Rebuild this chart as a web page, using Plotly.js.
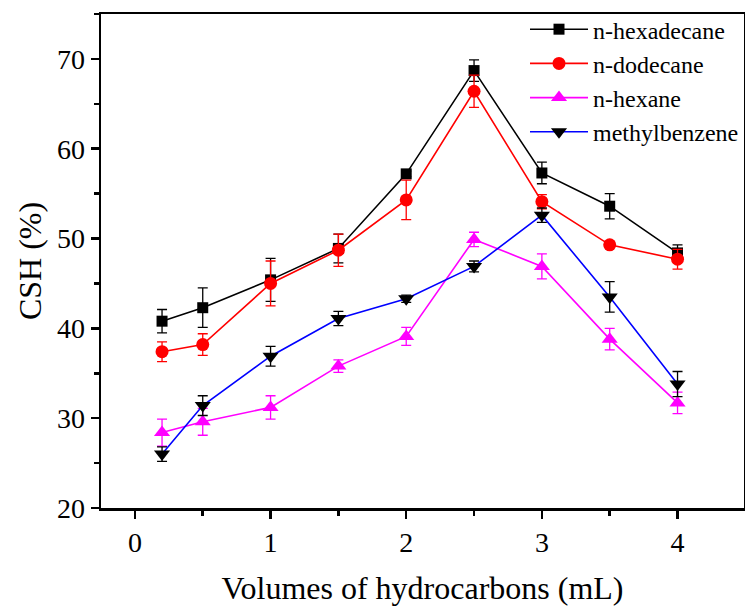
<!DOCTYPE html>
<html>
<head>
<meta charset="utf-8">
<script src="https://cdn.plot.ly/plotly-3.0.1.min.js"></script>
<style>html,body{margin:0;padding:0;background:#fff;}#chart{width:745px;height:610px;}</style>
</head>
<body>
<div id="chart"></div>
<script>
const volumes = [0.2, 0.5, 1, 1.5, 2, 2.5, 3, 3.5, 4];

const hexadecane    = [40.8, 42.3, 45.4, 48.9, 57.2, 68.7, 57.3, 53.6, 48.4];
const hexadecaneErr = [1.3, 2.2, 2.4, 1.6, 0.3, 1.2, 1.2, 1.4, 0.9];

const dodecane    = [37.4, 38.2, 45.0, 48.7, 54.3, 66.4, 54.1, 49.3, 47.7];
const dodecaneErr = [1.1, 1.2, 2.5, 1.8, 2.2, 1.8, 0.8, 0.3, 1.1];

const hexane    = [28.4, 29.6, 31.2, 35.8, 39.1, 49.9, 46.9, 38.8, 31.7];
const hexaneErr = [1.5, 1.5, 1.3, 0.7, 1.0, 0.8, 1.4, 1.2, 1.2];

const methylbenzene    = [26.0, 31.4, 36.9, 41.1, 43.3, 46.9, 52.6, 43.5, 33.8];
const methylbenzeneErr = [0.8, 1.1, 1.1, 0.8, 0.4, 0.6, 0.8, 1.7, 1.4];

const seriesNames = ['n-hexadecane', 'n-dodecane', 'n-hexane', 'methylbenzene'];

function trace(name, y, err, lineColor, markerColor, symbol, size, errColor) {
  return {
    x: volumes, y: y, name: name, type: 'scatter', mode: 'lines+markers',
    line: {color: lineColor, width: 1.6},
    marker: {color: markerColor, symbol: symbol, size: size, line: {width: 0}},
    error_y: {type: 'data', array: err, visible: true, color: errColor, thickness: 1.3, width: 5}
  };
}

const data = [
  trace(seriesNames[0], hexadecane, hexadecaneErr, '#000000', '#000000', 'square', 11, '#000000'),
  trace(seriesNames[1], dodecane, dodecaneErr, '#ff0000', '#ff0000', 'circle', 13, '#ff0000'),
  trace(seriesNames[2], hexane, hexaneErr, '#ff00ff', '#ff00ff', 'triangle-up', 14, '#ff00ff'),
  trace(seriesNames[3], methylbenzene, methylbenzeneErr, '#0000ff', '#000000', 'triangle-down', 14, '#000000')
];

const font = '"Liberation Serif", "Times New Roman", serif';

const layout = {
  width: 745, height: 610,
  margin: {l: 101, r: 1, t: 14, b: 102},
  paper_bgcolor: '#ffffff', plot_bgcolor: '#ffffff',
  font: {family: font, color: '#000000', size: 26},
  showlegend: true,
  legend: {
    x: 1.0, y: 1.014, xanchor: 'right', yanchor: 'top',
    bgcolor: 'rgba(255,255,255,0)', borderwidth: 0,
    font: {family: font, size: 24, color: '#000000'},
    itemwidth: 58, tracegroupgap: 0
  },
  xaxis: {
    range: [-0.25, 4.49],
    tickvals: [0, 1, 2, 3, 4],
    ticks: 'outside', ticklen: 8, tickwidth: 2.5, tickcolor: '#000',
    minor: {dtick: 0.5, tick0: 0, ticks: 'outside', ticklen: 5, tickwidth: 2.5, tickcolor: '#000', showgrid: false},
    showline: true, linewidth: 2.5, linecolor: '#000', mirror: true,
    showgrid: false, zeroline: false,
    tickfont: {family: font, size: 28},
    title: {text: 'Volumes of hydrocarbons (mL)', font: {family: font, size: 32}, standoff: 20}
  },
  yaxis: {
    range: [20, 75],
    tickvals: [20, 30, 40, 50, 60, 70],
    ticks: 'outside', ticklen: 8, tickwidth: 2.5, tickcolor: '#000',
    minor: {dtick: 5, tick0: 0, ticks: 'outside', ticklen: 5, tickwidth: 2.5, tickcolor: '#000', showgrid: false},
    showline: true, linewidth: 2.5, linecolor: '#000', mirror: true,
    showgrid: false, zeroline: false,
    tickfont: {family: font, size: 28},
    title: {text: 'CSH (%)', font: {family: font, size: 32}, standoff: 6}
  }
};

Plotly.newPlot('chart', data, layout, {displayModeBar: false, staticPlot: true});
</script>
</body>
</html>
